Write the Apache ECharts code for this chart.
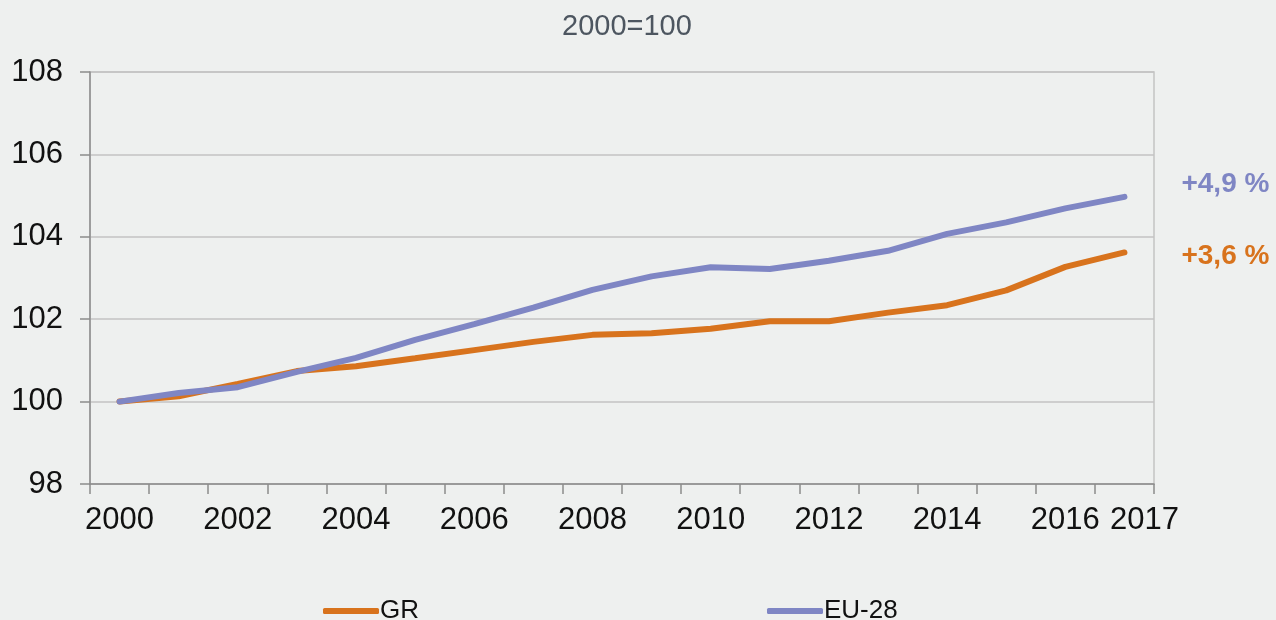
<!DOCTYPE html>
<html>
<head>
<meta charset="utf-8">
<script src="https://cdn.jsdelivr.net/npm/echarts@6/dist/echarts.min.js"></script>
<style>
  html, body { margin: 0; padding: 0; background: #eef0ef; }
  #root { width: 1276px; height: 620px; }
</style>
</head>
<body>
<div id="root"></div>
<script>
// 年份 (类目轴)
var years = ['2000','2001','2002','2003','2004','2005','2006','2007','2008',
             '2009','2010','2011','2012','2013','2014','2015','2016','2017'];
// 希腊 指数 2000=100
var grValues = [100, 100.13, 100.43, 100.74, 100.86, 101.05, 101.25, 101.45, 101.62,
                101.66, 101.77, 101.95, 101.95, 102.16, 102.34, 102.70, 103.27, 103.62];
// 欧盟28国
var euValues = [100, 100.21, 100.35, 100.72, 101.06, 101.50, 101.88, 102.28, 102.71,
                103.04, 103.26, 103.22, 103.42, 103.66, 104.07, 104.35, 104.69, 104.97];
// 末端标签
var seriesNames = ['GR', 'EU-28'];
var endTexts = ['+3,6 %', '+4,9 %'];

var ORANGE = '#d8731d';
var BLUE = '#7f86c4';
var FONT = 'Liberation Sans, Arial, sans-serif';

var myChart = echarts.init(document.getElementById('root'));

function endLabel(text, color, dy) {
    return {
        show: true,
        formatter: text,
        color: color,
        fontFamily: FONT,
        fontSize: 28,
        fontWeight: 'bold',
        distance: 57,
        offset: [0, dy]
    };
}

var option = {
    backgroundColor: '#eef0ef',
    animation: false,
    title: {
        text: '2000=100',
        left: 557,
        top: 7,
        textStyle: { fontFamily: FONT, fontSize: 29, fontWeight: 'normal', color: '#4d5660' }
    },
    legend: {
        left: 318,
        top: 593,
        itemWidth: 56,
        itemHeight: 6,
        itemGap: 348,
        icon: 'roundRect',
        textStyle: { fontFamily: FONT, fontSize: 26, color: '#111', padding: [0, 0, 0, -4] },
        data: seriesNames
    },
    grid: {
        left: 90,
        right: 122,
        top: 72,
        bottom: 136,
        show: true,
        borderColor: '#c3c3c3',
        borderWidth: 1.5,
        backgroundColor: 'transparent'
    },
    xAxis: {
        type: 'category',
        data: years,
        boundaryGap: true,
        axisLine: { lineStyle: { color: '#8c8c8c', width: 1.5 } },
        axisTick: { show: true, length: 10, interval: 0, lineStyle: { color: '#8c8c8c', width: 1.5 } },
        axisLabel: {
            margin: 21,
            fontFamily: FONT,
            fontSize: 31,
            color: '#111',
            hideOverlap: false,
            interval: function (i) { return i % 2 === 0 || i === years.length - 1; },
            formatter: function (v, i) {
                return i === years.length - 1 ? '{s|' + v + '}' : v;
            },
            rich: {
                s: { fontFamily: FONT, fontSize: 31, color: '#111', padding: [0, 0, 0, 40] }
            }
        }
    },
    yAxis: {
        type: 'value',
        min: 98,
        max: 108,
        interval: 2,
        axisLine: { show: true, lineStyle: { color: '#8c8c8c', width: 1.5 } },
        axisTick: { show: true, length: 10, lineStyle: { color: '#8c8c8c', width: 1.5 } },
        axisLabel: { margin: 27, fontFamily: FONT, fontSize: 31, color: '#111' },
        splitLine: { lineStyle: { color: '#c3c3c3', width: 1.5 } }
    },
    series: [
        {
            name: seriesNames[0],
            type: 'line',
            data: grValues,
            symbol: 'none',
            color: ORANGE,
            lineStyle: { width: 6, color: ORANGE, cap: 'round' },
            endLabel: endLabel(endTexts[0], ORANGE, 4)
        },
        {
            name: seriesNames[1],
            type: 'line',
            data: euValues,
            symbol: 'none',
            color: BLUE,
            lineStyle: { width: 6, color: BLUE, cap: 'round' },
            endLabel: endLabel(endTexts[1], BLUE, -13)
        }
    ]
};

myChart.setOption(option);
</script>
</body>
</html>
